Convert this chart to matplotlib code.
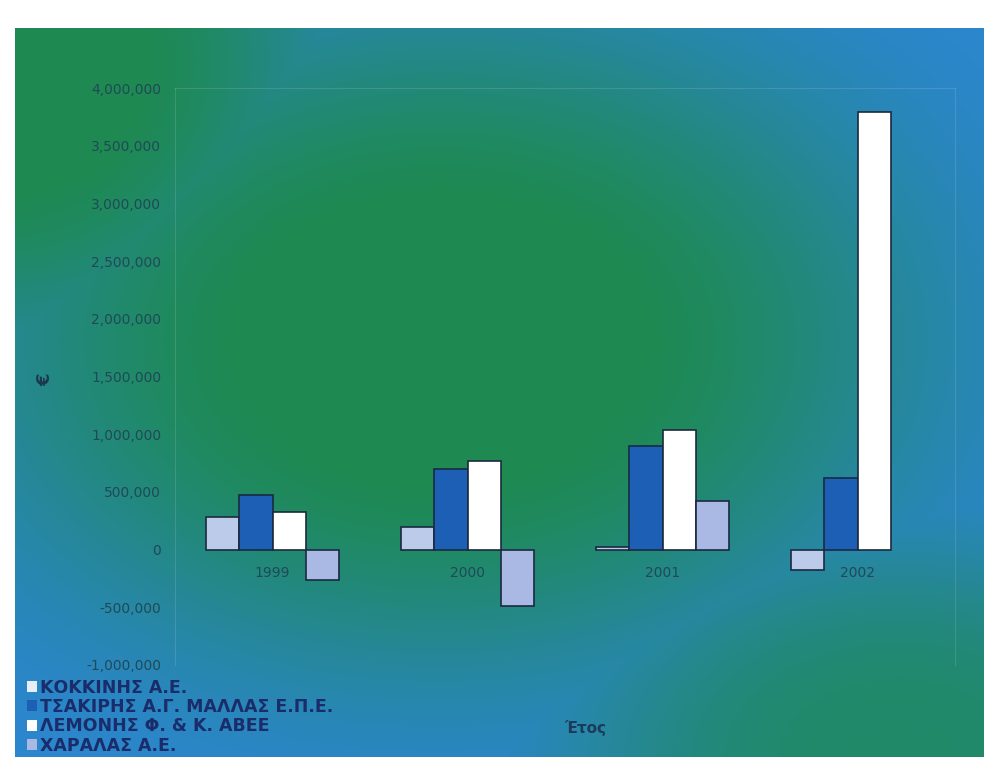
import matplotlib.pyplot as plt
import numpy as np
from matplotlib.ticker import FuncFormatter
from matplotlib.patches import Patch

# Data
years = ["1999", "2000", "2001", "2002"]
companies = [
    "ΚΟΚΚΙΝΗΣ Α.Ε.",
    "ΤΣΑΚΙΡΗΣ Α.Γ. ΜΑΛΛΑΣ Ε.Π.Ε.",
    "ΛΕΜΟΝΗΣ Φ. & Κ. ΑΒΕΕ",
    "ΧΑΡΑΛΑΣ Α.Ε.",
]
kokkinis = [280000, 200000, 25000, -180000]
tsakiris = [470000, 700000, 900000, 620000]
lemonis = [325000, 770000, 1040000, 3790000]
charalas = [-265000, -490000, 420000, np.nan]
y_ticks = np.arange(-1000000, 4000001, 500000)

series = [kokkinis, tsakiris, lemonis, charalas]
colours = ["#bccbea", "#1d5fb5", "#ffffff", "#a9b9e4"]
legend_colours = ["#e8eef8", "#1d5fb5", "#ffffff", "#a9b9e4"]

fig = plt.figure(figsize=(9.84, 7.57), dpi=100)

# Background gradient (green centre, blue edges)
bg = fig.add_axes([15 / 984, 0, 1 - 15 / 984, 1 - 28 / 757], zorder=-1)
xx, yy = np.meshgrid(np.linspace(15, 984, 300), np.linspace(28, 757, 240))
w = np.exp(-(((xx - 440) / 470) ** 2 + ((yy - 340) / 330) ** 2) ** 1.5)
w = np.maximum(w, 0.75 * np.exp(-(((xx - 900) / 330) ** 2 + ((yy - 760) / 220) ** 2) ** 1.5))
w = np.maximum(w, np.exp(-(((xx - 0) / 330) ** 2 + ((yy - 60) / 300) ** 2) ** 1.5))
w = np.clip(w * 1.1, 0, 1)[..., None]
green = np.array([30, 138, 82]) / 255
blue = np.array([44, 134, 210]) / 255
bg.imshow(w * green + (1 - w) * blue, aspect="auto", extent=[0, 1, 0, 1], interpolation="bilinear")
bg.axis("off")

ax = fig.add_axes([175 / 984, 1 - 665 / 757, 780 / 984, 577 / 757])
ax.patch.set_alpha(0)

x = np.arange(len(years))
width = 0.17
for i, (vals, col, name) in enumerate(zip(series, colours, companies)):
    ax.bar(x + (i - 1.5) * width, vals, width, color=col, edgecolor="#1a2a40",
           linewidth=1.2, label=name)

ax.set_xlim(-0.5, len(years) - 0.5)
ax.set_ylim(-1000000, 4000000)
ax.set_yticks(y_ticks)
ax.yaxis.set_major_formatter(FuncFormatter(lambda v, p: f"{v:,.0f}"))
ax.tick_params(axis="y", length=0, pad=10, labelsize=10, labelcolor="#1f4a58")
ax.set_xticks(x)
ax.set_xticklabels(years)
ax.spines["bottom"].set_position(("data", 0))
ax.tick_params(axis="x", length=0, pad=12, labelsize=10, labelcolor="#1f4a58")
for s in ax.spines.values():
    s.set_color("#ffffff")
    s.set_alpha(0.12)
ax.spines["bottom"].set_visible(False)

fig.text(45 / 984, 1 - 380 / 757, "€", rotation=90, fontsize=13, fontweight="bold",
         color="#1c3a4e", ha="center", va="center")
fig.text(585 / 984, 1 - 728 / 757, "Έτος", fontsize=11, fontweight="bold",
         color="#1c3a5a", ha="center", va="center")

handles = [Patch(facecolor=c, edgecolor="none") for c in legend_colours]
fig.legend(handles, companies, loc="upper left", bbox_to_anchor=(18 / 984, 1 - 670 / 757),
           frameon=False, handlelength=0.6, handleheight=0.6, handletextpad=0.15,
           labelspacing=0.08, borderpad=0,
           prop={"weight": "bold", "size": 12.5}, labelcolor="#1a2c6a")

fig.savefig("out.png", dpi=100)
